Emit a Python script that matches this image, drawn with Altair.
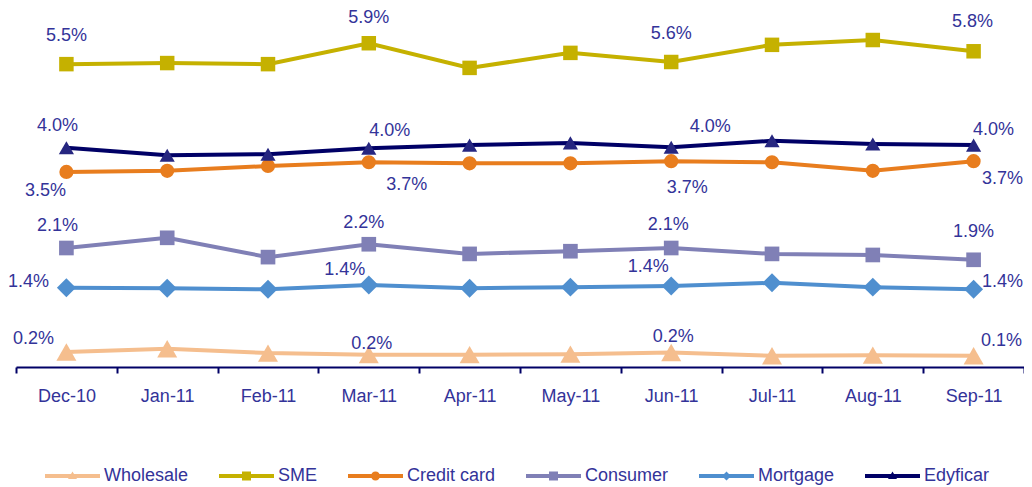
import altair as alt
import pandas as pd

months = ["Dec-10", "Jan-11", "Feb-11", "Mar-11", "Apr-11", "May-11",
          "Jun-11", "Jul-11", "Aug-11", "Sep-11"]
series = ["Wholesale", "SME", "Credit card", "Consumer", "Mortgage", "Edyficar"]

wholesale = [0.15, 0.21, 0.13, 0.10, 0.10, 0.11, 0.14, 0.08, 0.09, 0.08]
sme = [5.52, 5.54, 5.52, 5.91, 5.45, 5.73, 5.56, 5.88, 5.97, 5.76]
credit_card = [3.51, 3.53, 3.62, 3.69, 3.67, 3.67, 3.71, 3.69, 3.53, 3.71]
consumer = [2.09, 2.28, 1.92, 2.16, 1.98, 2.03, 2.09, 1.98, 1.96, 1.87]
mortgage = [1.35, 1.34, 1.32, 1.40, 1.34, 1.36, 1.38, 1.44, 1.36, 1.32]
edyficar = [3.96, 3.82, 3.84, 3.95, 4.01, 4.05, 3.97, 4.09, 4.03, 4.01]

label_months = ["Dec-10", "Mar-11", "Jun-11", "Sep-11"]
wholesale_labels = ["0.2%", "0.2%", "0.2%", "0.1%"]
sme_labels = ["5.5%", "5.9%", "5.6%", "5.8%"]
credit_card_labels = ["3.5%", "3.7%", "3.7%", "3.7%"]
consumer_labels = ["2.1%", "2.2%", "2.1%", "1.9%"]
mortgage_labels = ["1.4%", "1.4%", "1.4%", "1.4%"]
edyficar_labels = ["4.0%", "4.0%", "4.0%", "4.0%"]

values = {"Wholesale": wholesale, "SME": sme, "Credit card": credit_card,
          "Consumer": consumer, "Mortgage": mortgage, "Edyficar": edyficar}
labels = {"Wholesale": wholesale_labels, "SME": sme_labels,
          "Credit card": credit_card_labels, "Consumer": consumer_labels,
          "Mortgage": mortgage_labels, "Edyficar": edyficar_labels}

# styles
colors = ["#F5BE8E", "#C5B100", "#E87D1E", "#8080B6", "#4F8FCF", "#000066"]
point_colors = ["#F5BE8E", "#C5B100", "#E87D1E", "#8080B6", "#4F8FCF", "#262680"]
shapes = ["triangle-up", "square", "circle", "square", "diamond", "triangle-up"]
sizes = [400, 210, 200, 215, 360, 230]
TEXT = "#333399"
FONT = "Liberation Sans"

# label offsets (dx, dy) per series, per labelled month
offsets = {
    "SME": [(0, -28), (0, -25), (0, -28), (-1, -29)],
    "Edyficar": [(-9, -22), (21, -17), (39, -20), (20, -15)],
    "Credit card": [(-21, 19), (38, 23), (16, 27), (29, 18)],
    "Consumer": [(-9, -22), (-5, -21), (-3, -23), (0, -28)],
    "Mortgage": [(-38, -6), (-24, -15), (-23, -19), (29, -7)],
    "Wholesale": [(-33, -13), (3, -11), (2, -16), (28, -15)],
}

rows = []
for s in series:
    for m, v in zip(months, values[s]):
        rows.append({"month": m, "series": s, "value": v})
df = pd.DataFrame(rows)

x_enc = alt.X("month:N", sort=months, bandPosition=0.5,
              scale=alt.Scale(type="band", paddingInner=0, paddingOuter=0),
              axis=alt.Axis(title=None, labelAngle=0, tickBand="extent",
                            domainColor="#000066", domainWidth=2,
                            tickColor="#000066", tickWidth=2, tickSize=6,
                            labelFont=FONT, labelFontSize=18, labelColor=TEXT,
                            labelPadding=14, grid=False))
y_enc = alt.Y("value:Q", scale=alt.Scale(domain=[-0.13, 6.53], nice=False, zero=False),
              axis=None)

# legend symbols (unit = 10 px with symbolSize 400): a 55 px line with a marker in the middle
L = "M-1,-0.2H4.5V0.2H-1Z"
tri = "M1.75,-0.45L2.2,0.3L1.3,0.3Z"
sq = "M1.3,-0.45H2.2V0.45H1.3Z"
circ = "M1.3,0A0.45,0.45,0,1,1,2.2,0A0.45,0.45,0,1,1,1.3,0Z"
dia = "M1.75,-0.45L2.2,0L1.75,0.45L1.3,0Z"
sym_paths = {"Wholesale": L + tri, "SME": L + sq, "Credit card": L + circ,
             "Consumer": L + sq, "Mortgage": L + dia, "Edyficar": L + tri}
expr = "'" + L + tri + "'"
for s in ["Wholesale", "Mortgage", "Consumer", "Credit card", "SME"]:
    expr = f"datum.value === '{s}' ? '{sym_paths[s]}' : " + expr
expr = "(" + expr + ")"

color_scale = alt.Scale(domain=series, range=colors)

lines = alt.Chart(df).mark_line(strokeWidth=4).encode(
    x=x_enc, y=y_enc,
    color=alt.Color("series:N", scale=color_scale,
                    legend=alt.Legend(
                        title=None, orient="none", direction="horizontal",
                        legendX=29, legendY=456,
                        symbolType=alt.ExprRef(expr=expr),
                        symbolSize=400,
                        symbolFillColor=alt.ExprRef(expr="scale('color', datum.value)"),
                        symbolStrokeWidth=0,
                        labelFont=FONT, labelFontSize=18, labelColor=TEXT,
                        labelOffset=39, columnPadding=30, padding=0)),
)

layers = [lines]
for s, pc, sh, sz in zip(series, point_colors, shapes, sizes):
    layers.append(
        alt.Chart(df).transform_filter(alt.datum.series == s)
        .mark_point(filled=True, opacity=1, color=pc, shape=sh, size=sz)
        .encode(x=x_enc, y=y_enc)
    )

for s in series:
    for i, m in enumerate(label_months):
        v = values[s][months.index(m)]
        dx, dy = offsets[s][i]
        ldf = pd.DataFrame({"month": [m], "value": [v], "text": [labels[s][i]]})
        layers.append(
            alt.Chart(ldf).mark_text(dx=dx, dy=dy, align="center", baseline="middle",
                                     font=FONT, fontSize=18, color=TEXT).encode(
                x=x_enc, y=y_enc, text="text:N")
        )

chart = alt.layer(*layers).properties(
    width=1008, height=357,
    autosize=alt.AutoSizeParams(type="none"),
    padding={"left": 8, "top": 2, "right": 0, "bottom": 119},
).configure(background="white").configure_view(stroke=None, strokeWidth=0)

chart.save("out.html", embed_options={"renderer": "svg", "actions": False})
